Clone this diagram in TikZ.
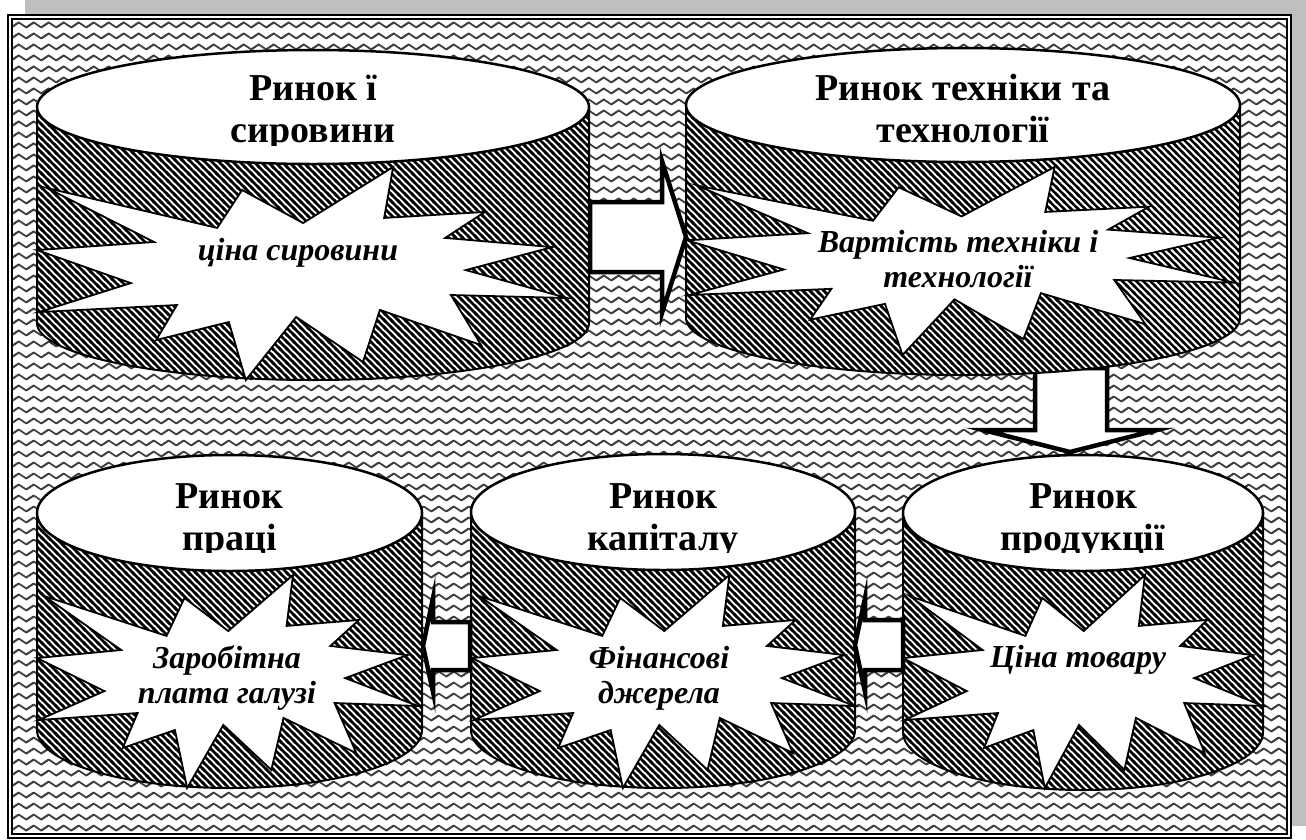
\documentclass[tikz,border=0pt]{standalone}
\usepackage{fontspec}
\setmainfont{Liberation Serif}
\usetikzlibrary{patterns}

% wavy background and diagonal hatching
\pgfdeclarepatternformonly{waves}{\pgfqpoint{-5pt}{-5pt}}{\pgfqpoint{20pt}{5pt}}{\pgfqpoint{15pt}{11pt}}{%
  \pgfsetlinewidth{1.8pt}%
  \pgfsetroundjoin
  \pgfpathmoveto{\pgfqpoint{-3.75pt}{-2.5pt}}%
  \pgfpathlineto{\pgfqpoint{3.75pt}{2.5pt}}%
  \pgfpathlineto{\pgfqpoint{11.25pt}{-2.5pt}}%
  \pgfpathlineto{\pgfqpoint{18.75pt}{2.5pt}}%
  \pgfusepath{stroke}}
\pgfdeclarepatternformonly{hatch}{\pgfqpoint{-2pt}{-2pt}}{\pgfqpoint{9pt}{9pt}}{\pgfqpoint{7pt}{7pt}}{%
  \pgfsetlinewidth{2.5pt}%
  \pgfpathmoveto{\pgfqpoint{-2pt}{9pt}}%
  \pgfpathlineto{\pgfqpoint{9pt}{-2pt}}%
  \pgfusepath{stroke}}

\tikzset{
  canbody/.style={draw, line width=2pt, preaction={fill=white}, pattern=hatch},
  cantop/.style={draw, line width=2.5pt, fill=white},
  burstline/.style={draw, line width=1.8pt, fill=white, line join=miter},
  blockarrow/.style={draw, line width=4.5pt, fill=white, line join=miter},
  title/.style={font={\fontsize{38}{42}\selectfont\bfseries}, align=center, inner sep=0pt},
  price/.style={font={\fontsize{32}{35}\selectfont\bfseries\itshape}, align=center, inner sep=0pt},
}

% can: left x, right x, top centre y, bottom centre y, y radius
\newcommand{\drawcan}[5]{%
  \draw[canbody] (#1,#3) -- (#1,#4)
    arc[start angle=180, end angle=0, x radius={(#2-#1)/2}, y radius=#5]
    -- (#2,#3) -- cycle;
  \draw[cantop] ({(#1+#2)/2},#3) ellipse[x radius={(#2-#1)/2}, y radius=#5];
}
% burst: left x, top y, width, height
\newcommand{\drawburst}[4]{%
  \draw[burstline, shift={(#1,#2)}, xscale=#3, yscale=#4]
    (0.672,0) -- (0.655,0.239) -- (0.845,0.211) -- (0.770,0.333) -- (0.972,0.376)
    -- (0.809,0.484) -- (1,0.615) -- (0.781,0.601) -- (0.838,0.836) -- (0.647,0.671)
    -- (0.615,0.915) -- (0.489,0.704) -- (0.394,1) -- (0.362,0.728) -- (0.225,0.812)
    -- (0.264,0.648) -- (0.004,0.681) -- (0.177,0.545) -- (0,0.390) -- (0.221,0.352)
    -- (0.019,0.099) -- (0.340,0.286) -- (0.387,0.108) -- (0.502,0.263) -- cycle;
}

\begin{document}
\begin{tikzpicture}[x=1pt, y=-1pt]
\useasboundingbox (0,0) rectangle (1306,839);
% frame
\fill[black!25] (25,0) rectangle (1306,826);
\draw[line width=2.5pt, fill=white] (8,15) rectangle (1291,838);
\draw[line width=1.2pt, pattern=waves, pattern color=black!75] (12,19) rectangle (1287,834);

% down arrow, under the upper right can
\draw[blockarrow] (1035,368) -- (1035,430) -- (983,430) -- (1070,452)
  -- (1157,430) -- (1107,430) -- (1107,368) -- cycle;

% upper row
\drawcan{37}{589}{107}{323}{57}
\drawburst{37}{167}{530}{213}
\begin{scope}
  \clip (37,40) rectangle (589,145);
  \node[title] (raw) at (313,112.6) {\strut Ринок ї\\\strut сировини};
\end{scope}
\node[price] (rawprice) at (298,253) {\strut ціна сировини};

\drawcan{686}{1240}{105}{318}{57}
\drawburst{687}{167}{547}{188}
\begin{scope}
  \clip (686,40) rectangle (1240,145);
  \node[title] (tech) at (963,112.6) {\strut Ринок техніки та\\\strut технології};
\end{scope}
\node[price] (techcost) at (958,262.5) {\strut Вартість техніки і\\\strut технології};

% lower row
\drawcan{37}{422}{513}{730}{58}
\drawburst{37}{575}{381}{213}
\begin{scope}
  \clip (37,450) rectangle (422,552);
  \node[title] (labour) at (229.5,520.6) {\strut Ринок\\\strut праці};
\end{scope}
\node[price] (wage) at (227,678.5) {\strut Заробітна\\\strut плата галузі};

\drawcan{471}{855}{512}{730}{58}
\drawburst{472}{575}{383}{213}
\begin{scope}
  \clip (471,450) rectangle (855,552);
  \node[title] (capital) at (663,520.6) {\strut Ринок\\\strut капіталу};
\end{scope}
\node[price] (funds) at (659,678.5) {\strut Фінансові\\\strut джерела};

\drawcan{903}{1263}{513}{732}{58}
\drawburst{903}{575}{360}{213}
\begin{scope}
  \clip (903,450) rectangle (1263,552);
  \node[title] (goods) at (1083,520.6) {\strut Ринок\\\strut продукції};
\end{scope}
\node[price] (goodsprice) at (1078,660) {\strut Ціна товару};

% block arrows
\draw[blockarrow] (590,202) -- (662,202) -- (662,161) -- (686,237)
  -- (662,313) -- (662,272) -- (590,272) -- cycle;
\draw[blockarrow] (903,620) -- (865,620) -- (865,598) -- (855,645)
  -- (865,692) -- (865,670) -- (903,670) -- cycle;
\draw[blockarrow] (470,622) -- (433,622) -- (433,598) -- (423,646)
  -- (433,692) -- (433,670) -- (470,670) -- cycle;
\end{tikzpicture}
\end{document}
